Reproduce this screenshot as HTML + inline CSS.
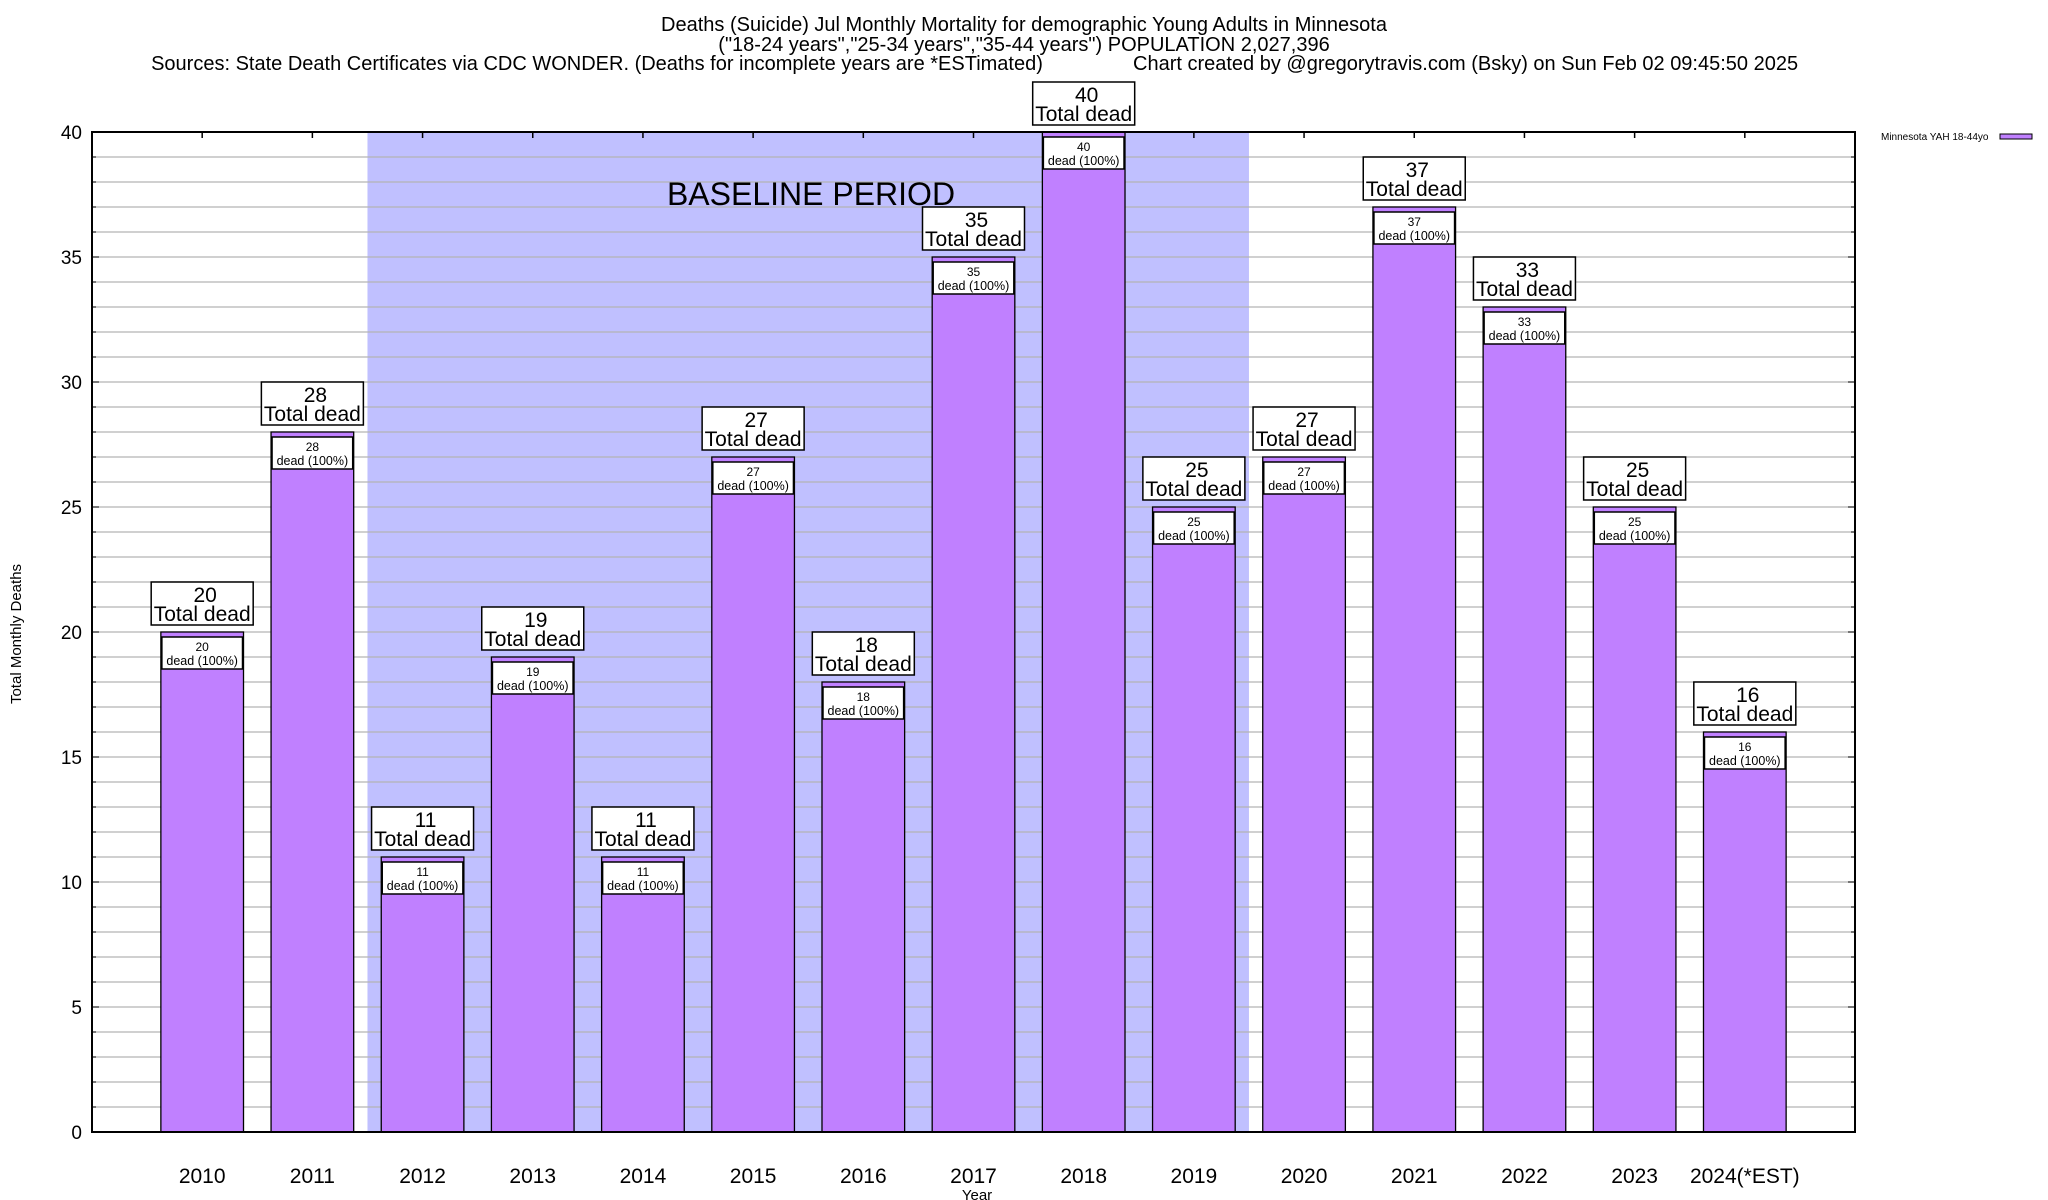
<!DOCTYPE html>
<html><head><meta charset="utf-8"><style>
html,body{margin:0;padding:0;background:#fff;}
svg{display:block;font-family:"Liberation Sans",Arial,sans-serif;}
</style></head><body>
<svg id="chart" width="2048" height="1200" viewBox="0 0 2048 1200" xmlns="http://www.w3.org/2000/svg">
<text x="1024" y="31" font-size="20" text-anchor="middle">Deaths (Suicide) Jul Monthly Mortality for demographic Young Adults in Minnesota</text>
<text x="1024" y="51" font-size="20" text-anchor="middle">("18-24 years","25-34 years","35-44 years") POPULATION 2,027,396</text>
<text x="597" y="70" font-size="20" text-anchor="middle">Sources: State Death Certificates via CDC WONDER. (Deaths for incomplete years are *ESTimated)</text>
<text x="1133" y="70" font-size="20">Chart created by @gregorytravis.com (Bsky) on Sun Feb 02 09:45:50 2025</text>
<g id="plot"></g>
<text transform="translate(21,634) rotate(-90)" font-size="15" text-anchor="middle">Total Monthly Deaths</text>
<text x="977" y="1200" font-size="15" text-anchor="middle">Year</text>
<text x="1881" y="140" font-size="10">Minnesota YAH 18-44yo</text>
<rect x="2000" y="134" width="32" height="5" fill="#c080ff" stroke="#000" stroke-width="1"/>
</svg>
<script>
const categories=["2010","2011","2012","2013","2014","2015","2016","2017","2018","2019","2020","2021","2022","2023","2024(*EST)"];
const deaths=[20,28,11,19,11,27,18,35,40,25,27,37,33,25,16];
const yTicks=[0,5,10,15,20,25,30,35,40];
const baselineRange=[2,9];
const PL=92,PR=1855,PT=132,PB=1132,XMIN=-1,XMAX=15,YMAX=40;
const xs=i=>PL+(i-XMIN)/(XMAX-XMIN)*(PR-PL);
const ys=v=>PB-v/YMAX*(PB-PT);
const NS="http://www.w3.org/2000/svg";
const g=document.getElementById('plot');
function mk(t,a,txt){const e=document.createElementNS(NS,t);for(const k in a)e.setAttribute(k,a[k]);if(txt!=null)e.textContent=txt;g.appendChild(e);return e;}
const slot=xs(1)-xs(0);
let e=mk('rect',{x:xs(baselineRange[0]-0.5),y:PT,width:xs(baselineRange[1]+0.5)-xs(baselineRange[0]-0.5),height:PB-PT,fill:'#c0c0ff'});


for(let v=1;v<YMAX;v++){
 e=mk('line',{x1:PL,x2:PR,y1:ys(v),y2:ys(v),stroke:'#b4b4b4','stroke-width':1.3});
 
 
 const len=v%5===0?7:4;
 mk('line',{x1:PL,x2:PL+len,y1:ys(v),y2:ys(v),stroke:'#000','stroke-width':1});
 mk('line',{x1:PR,x2:PR-len,y1:ys(v),y2:ys(v),stroke:'#000','stroke-width':1});
}
yTicks.forEach(v=>{
 e=mk('text',{x:PL-10,y:ys(v)+7,'font-size':19,'text-anchor':'end'},String(v));
 
 
});
e=mk('text',{x:811,y:205,'font-size':32,'text-anchor':'middle'},'BASELINE PERIOD');


const bw=slot*0.75;
categories.forEach((c,i)=>{
 const cx=xs(i),v=deaths[i],top=ys(v);
 mk('line',{x1:cx,x2:cx,y1:PT,y2:PT+6,stroke:'#000','stroke-width':1.5});
 mk('line',{x1:cx,x2:cx,y1:PB,y2:PB-6,stroke:'#000','stroke-width':1.5});
 e=mk('rect',{x:cx-bw/2,y:top,width:bw,height:PB-top,fill:'#c080ff',stroke:'#000','stroke-width':1.3});
 
 
 e=mk('rect',{x:cx-bw/2+1,y:top+5,width:bw-2,height:32,fill:'#fff',stroke:'#000','stroke-width':1.5});
 
 
 mk('text',{x:cx,y:top+19,'font-size':12,'text-anchor':'middle'},String(v));
 mk('text',{x:cx,y:top+33,'font-size':12.5,'text-anchor':'middle'},'dead (100%)');
 e=mk('rect',{x:cx-51,y:top-50,width:102,height:43,fill:'#fff',stroke:'#000','stroke-width':1.5});
 
 
 mk('text',{x:cx+3,y:top-30,'font-size':21,'text-anchor':'middle'},String(v));
 mk('text',{x:cx,y:top-11,'font-size':21,'text-anchor':'middle'},'Total dead');
 e=mk('text',{x:cx,y:1183,'font-size':21,'text-anchor':'middle'},c);
 
 
});
e=mk('rect',{x:PL,y:PT,width:PR-PL,height:PB-PT,fill:'none',stroke:'#000','stroke-width':2});


</script>
</body></html>
